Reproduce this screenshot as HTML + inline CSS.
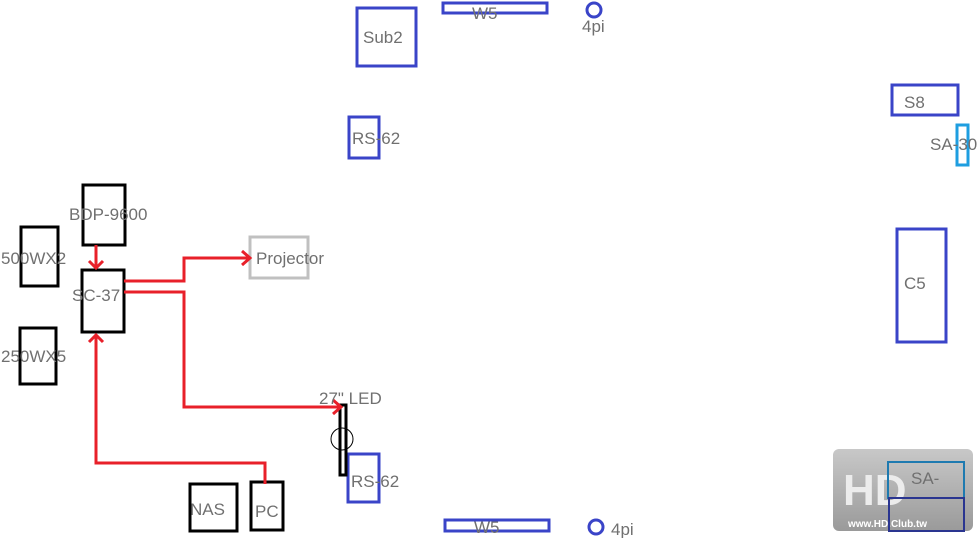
<!DOCTYPE html>
<html><head><meta charset="utf-8"><style>
html,body{margin:0;padding:0;background:#fff;}
svg{display:block}
text{font-family:"Liberation Sans",sans-serif;font-size:17px;fill:#707070;}
</style></head><body>
<svg width="979" height="538" viewBox="0 0 979 538" xmlns="http://www.w3.org/2000/svg">
<defs>
<linearGradient id="lg" x1="0" y1="0" x2="0" y2="1"><stop offset="0" stop-color="#c8c8c8"/><stop offset="1" stop-color="#9a9a9a"/></linearGradient>
</defs>
<g fill="none" stroke-width="3">
<rect x="83" y="185" width="42" height="60" stroke="#000"/>
<rect x="82" y="270" width="42" height="62" stroke="#000"/>
<rect x="21" y="227" width="37" height="59" stroke="#000"/>
<rect x="20" y="328" width="36" height="56" stroke="#000"/>
<rect x="190" y="484" width="47" height="47" stroke="#000"/>
<rect x="251" y="482" width="32" height="48" stroke="#000"/>
<rect x="250" y="237" width="58" height="41" stroke="#c0c0c0"/>
<rect x="357" y="8" width="59" height="58" stroke="#3a44c8"/>
<rect x="443" y="3" width="104" height="10" stroke="#3a44c8"/>
<circle cx="594" cy="10" r="7" stroke="#3a44c8"/>
<rect x="349" y="117" width="30" height="41" stroke="#3a44c8"/>
<rect x="892" y="85" width="66" height="30" stroke="#3a44c8"/>
<rect x="957" y="125" width="11" height="40" stroke="#1e9ee0"/>
<rect x="897" y="229" width="49" height="113" stroke="#3a44c8"/>
<rect x="348" y="454" width="31" height="48" stroke="#3a44c8"/>
<rect x="445" y="520" width="104" height="11" stroke="#3a44c8"/>
<circle cx="596" cy="527" r="7" stroke="#3a44c8"/>
<rect x="340" y="405" width="6" height="70" stroke="#000"/>
<circle cx="342" cy="439" r="11" stroke="#000" stroke-width="1"/>
<g stroke="#e8202a">
<path d="M96 245 V268 M89 261 L96 268 L103 261"/>
<path d="M124 281 H184 V258 H250 M242 251 L250 258 L242 265"/>
<path d="M124 292 H184 V407 H341 M333 400 L341 407 L333 414"/>
<path d="M265 484 V463 H96 V335 M89 342 L96 335 L103 342"/>
</g>
</g>
<rect x="833" y="449" width="140" height="82" rx="6" fill="url(#lg)"/>
<text x="843" y="505" style="font-size:44px;font-weight:bold;fill:#ececec">HD</text>
<text x="848" y="527" style="font-size:10px;font-weight:bold;fill:#fff">www.HD.Club.tw</text>
<rect x="888" y="462" width="76" height="36" fill="none" stroke="#1e7ab0" stroke-width="2"/>
<rect x="889" y="498" width="75" height="33" fill="none" stroke="#2a3590" stroke-width="2"/>
<text x="69" y="220">BDP-9600</text>
<text x="72" y="301">SC-37</text>
<text x="1" y="264">500WX2</text>
<text x="1" y="362">250WX5</text>
<text x="256" y="264">Projector</text>
<text x="190" y="515">NAS</text>
<text x="255" y="517">PC</text>
<text x="319" y="404">27" LED</text>
<text x="351" y="487">RS-62</text>
<text x="363" y="43">Sub2</text>
<text x="472" y="19">W5</text>
<text x="582" y="32">4pi</text>
<text x="352" y="144">RS-62</text>
<text x="904" y="108">S8</text>
<text x="930" y="150">SA-30</text>
<text x="904" y="289">C5</text>
<text x="911" y="484">SA-</text>
<text x="474" y="533">W5</text>
<text x="611" y="535">4pi</text>
</svg>
</body></html>
